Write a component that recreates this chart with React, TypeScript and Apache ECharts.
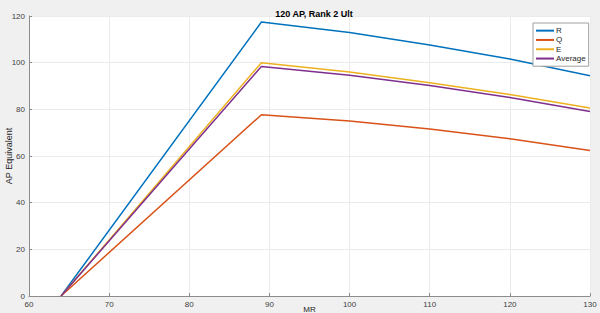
import React, { useEffect, useRef } from "react";
import * as echarts from "echarts";

const mrValues = [64, 89, 100, 110, 120, 130];
const rValues = [0, 117.4, 112.9, 107.6, 101.6, 94.4];
const qValues = [0, 77.7, 75.0, 71.6, 67.4, 62.4];
const eValues = [0, 100, 96.0, 91.4, 86.4, 80.6];
const avgValues = [0, 98.4, 94.6, 90.2, 85.1, 79.1];
const seriesNames = ["R", "Q", "E", "Average"];
const seriesColors = ["#0072BD", "#D95319", "#EDB120", "#7E2F8E"];

const FONT = "'Liberation Sans', Arial, Helvetica, sans-serif";

export default function App() {
  const ref = useRef<HTMLDivElement>(null);
  useEffect(() => {
    if (!ref.current) return;
    const chart = echarts.init(ref.current, null, { renderer: "svg" });
    const all = [rValues, qValues, eValues, avgValues];
    chart.setOption({
      animation: false,
      backgroundColor: "#f0f0f0",
      title: {
        text: "120 AP, Rank 2 Ult",
        left: 309,
        textAlign: "center",
        top: 4,
        textStyle: { fontFamily: FONT, fontSize: 9, fontWeight: "bold", color: "#000" },
      },
      legend: {
        data: seriesNames,
        orient: "vertical",
        left: 533,
        top: 23,
        padding: [3, 3, 3, 3],
        itemGap: 0,
        itemWidth: 18,
        itemHeight: 2,
        icon: "rect",
        backgroundColor: "#fff",
        borderColor: "#a0a0a0",
        borderWidth: 1,
        borderRadius: 0,
        textStyle: { fontFamily: FONT, fontSize: 8, color: "#262626", lineHeight: 9.3, padding: [0, 0, 0, -3] },
      },
      grid: {
        left: 29,
        right: 10,
        top: 16,
        bottom: 17,
        show: true,
        backgroundColor: "#ffffff",
        borderWidth: 0,
        containLabel: false,
        outerBoundsMode: "none",
      },
      xAxis: {
        type: "value",
        min: 60,
        max: 130,
        interval: 10,
        name: "MR",
        nameLocation: "middle",
        nameGap: 9,
        nameMoveOverlap: false,
        nameTextStyle: { fontFamily: FONT, fontSize: 8, color: "#262626", verticalAlign: "top" },
        axisLine: { show: true, lineStyle: { color: "#8c8c8c", width: 1 } },
        axisTick: { show: true, inside: true, length: 3, lineStyle: { color: "#8c8c8c" } },
        axisLabel: { fontFamily: FONT, fontSize: 8, color: "#404040", margin: 4 },
        splitLine: { show: true, lineStyle: { color: "#ebebeb", width: 1 } },
      },
      yAxis: {
        type: "value",
        min: 0,
        max: 120,
        interval: 20,
        name: "AP Equivalent",
        nameLocation: "middle",
        nameGap: 16,
        nameMoveOverlap: false,
        nameTextStyle: { fontFamily: FONT, fontSize: 9, color: "#262626" },
        axisLine: { show: true, lineStyle: { color: "#8c8c8c", width: 1 } },
        axisTick: { show: true, inside: true, length: 3, lineStyle: { color: "#8c8c8c" } },
        axisLabel: { fontFamily: FONT, fontSize: 8, color: "#404040", margin: 4 },
        splitLine: { show: true, lineStyle: { color: "#ebebeb", width: 1 } },
      },
      series: seriesNames.map((name, i) => ({
        name,
        type: "line",
        data: mrValues.map((x, j) => [x, all[i][j]]),
        showSymbol: false,
        symbol: "none",
        lineStyle: { color: seriesColors[i], width: 1.5 },
        itemStyle: { color: seriesColors[i] },
      })),
    });
    return () => chart.dispose();
  }, []);
  return (
    <div
      ref={ref}
      style={{ position: "fixed", left: 0, top: 0, width: 600, height: 313 }}
    />
  );
}
